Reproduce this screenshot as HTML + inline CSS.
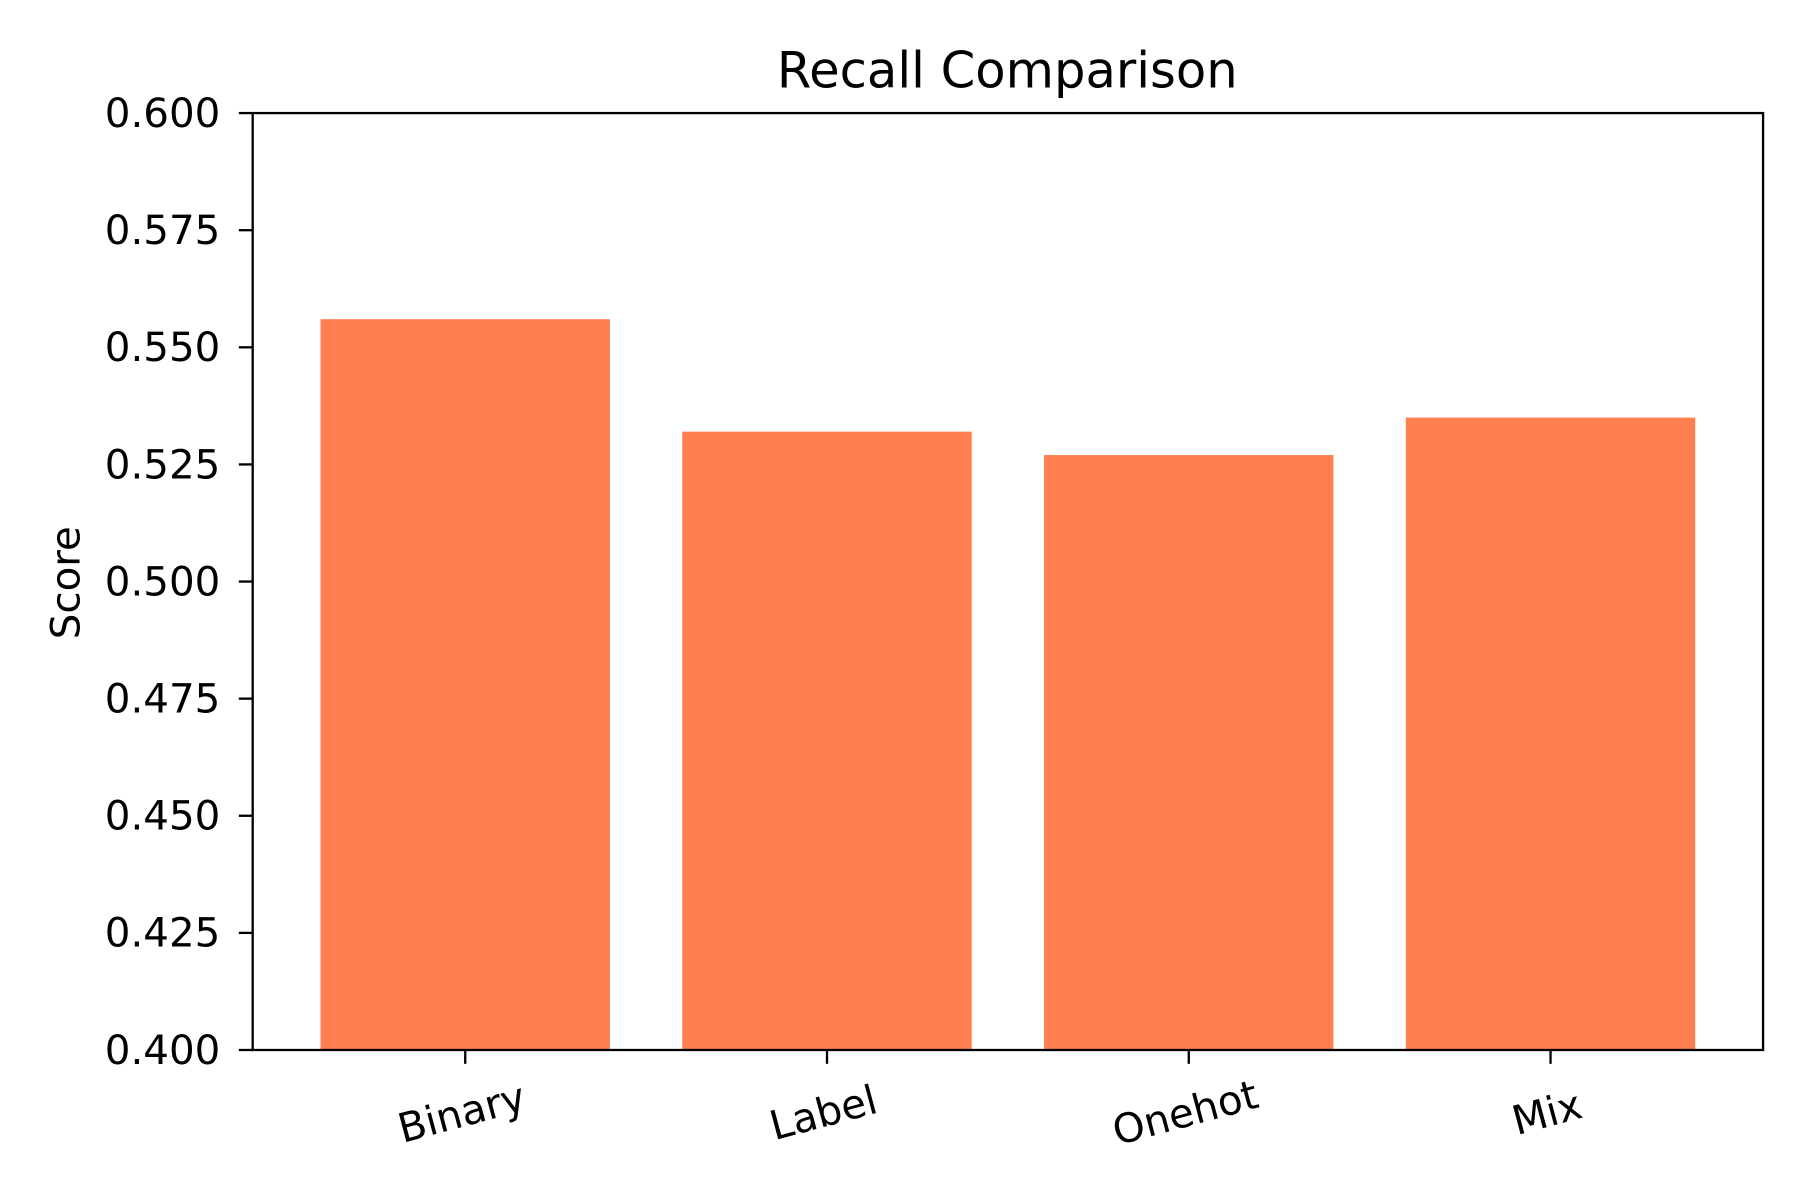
<!DOCTYPE html>
<html>
<head>
<meta charset="utf-8">
<style>
html,body{margin:0;padding:0;background:#fff;}
svg{display:block;}
text{font-family:"DejaVu Sans","Liberation Sans",sans-serif;fill:#000;}
</style>
</head>
<body>
<svg id="chart" width="1800" height="1200" viewBox="0 0 1560 1040" xmlns="http://www.w3.org/2000/svg">
<rect x="0" y="0" width="1560" height="1040" fill="#fff"/>
<text x="873" y="76" font-size="43" text-anchor="middle">Recall Comparison</text>
<text transform="translate(69,505) rotate(-90)" font-size="35" text-anchor="middle">Score</text>
<g id="bars"></g>
<g id="yticks"></g>
<g id="xticks"></g>
<rect x="219" y="98" width="1309" height="812" fill="none" stroke="#000" stroke-width="2"/>
</svg>
<script>
const categories = ["Binary","Label","Onehot","Mix"];
const values = [0.556, 0.532, 0.527, 0.535];
const yTicks = [0.400,0.425,0.450,0.475,0.500,0.525,0.550,0.575,0.600];
const yTickLabels = ["0.400","0.425","0.450","0.475","0.500","0.525","0.550","0.575","0.600"];

const L=219,R=1528,T=98,B=910,yMin=0.4,yMax=0.6,xMin=-0.5875,xMax=3.5875;
const ys=v=>B-(v-yMin)/(yMax-yMin)*(B-T);
const xs=i=>L+(i-xMin)/(xMax-xMin)*(R-L);
const NS="http://www.w3.org/2000/svg";
const mk=(t,a)=>{const e=document.createElementNS(NS,t);for(const k in a)e.setAttribute(k,a[k]);return e;};
const bars=document.getElementById('bars'),yt=document.getElementById('yticks'),xt=document.getElementById('xticks');
const bw=(xs(0.4)-xs(-0.4));
categories.forEach((c,i)=>{
  const v=Math.max(values[i],yMin);
  const r=mk('rect',{x:xs(i)-bw/2,y:ys(v),width:bw,height:B-ys(v),fill:'#FF7F50'});
  
  
  bars.appendChild(r);
  const tk=mk('line',{x1:xs(i),x2:xs(i),y1:B,y2:B+12,stroke:'#000','stroke-width':2});
  
  
  xt.appendChild(tk);
  const tx=mk('text',{x:0,y:0,'font-size':35,'text-anchor':'middle',transform:`translate(${xs(i)},${B+66}) rotate(-15)`});
  tx.textContent=c;
  
  
  xt.appendChild(tx);
});
yTicks.forEach((v,i)=>{
  const tk=mk('line',{x1:L-12,x2:L,y1:ys(v),y2:ys(v),stroke:'#000','stroke-width':2});
  
  
  yt.appendChild(tk);
  const tx=mk('text',{x:L-28,y:ys(v)+12,'font-size':35,'text-anchor':'end'});
  tx.textContent=yTickLabels[i];
  
  
  yt.appendChild(tx);
});
</script>
</body>
</html>
